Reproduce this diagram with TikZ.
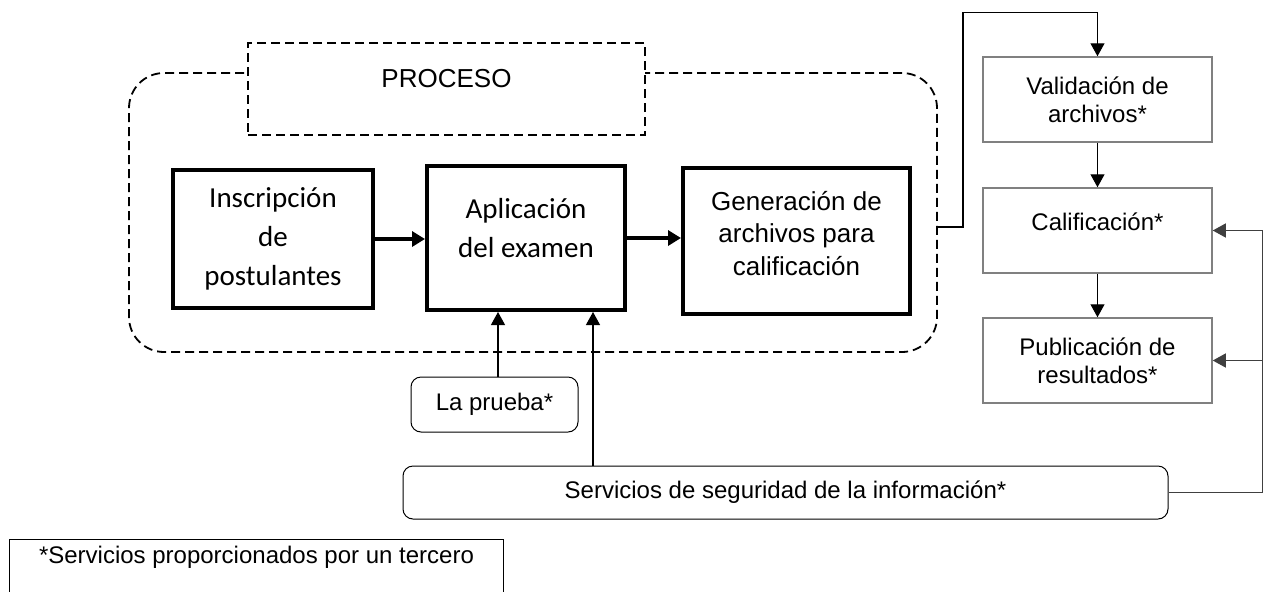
\documentclass[tikz,border=0pt]{standalone}
\usepackage{fontspec}
\setmainfont{Liberation Sans}
\newfontfamily\calibri{Carlito}
\usetikzlibrary{arrows.meta}
\definecolor{boxgris}{RGB}{128,128,128}
\definecolor{lineagris}{RGB}{64,64,64}

\begin{document}
\begin{tikzpicture}[x=0.5pt,y=-0.5pt,
  area/.style={draw,dash pattern=on 4.5pt off 2.5pt,line width=0.9pt,rounded corners=17.5pt},
  titulo/.style={draw,fill=white,dash pattern=on 4.5pt off 2.5pt,line width=0.9pt},
  etapa/.style={draw,line width=2pt,align=center,font=\calibri\fontsize{14.5}{19.5}\selectfont},
  servicio/.style={draw=boxgris,line width=0.75pt,align=center,minimum width=114.5pt,minimum height=42.5pt,font=\fontsize{12}{14}\selectfont},
  apoyo/.style={draw,line width=0.5pt,rounded corners=5pt,align=center,font=\fontsize{12}{14}\selectfont},
  flecha/.style={line width=0.6pt,-{Triangle[length=6.5pt,width=7pt]}},
  flechagruesa/.style={line width=2pt,-{Triangle[length=6.5pt,width=7.5pt]}}]
\useasboundingbox (0,0) rectangle (1266,591);
\clip (0,0) rectangle (1266,591);

\node[area,minimum width=404pt,minimum height=139.5pt] (proceso) at (533,212.5) {};
\node[titulo,minimum width=198.5pt,minimum height=46pt,
  label={[yshift=5pt,font=\fontsize{13}{15}\selectfont]center:PROCESO}] (titulo) at (446.5,89) {};

\node[etapa,minimum width=100pt,minimum height=69pt] (insc) at (273,239) {Inscripción\\de\\postulantes};
\node[etapa,minimum width=99pt,minimum height=72pt,
  label={[yshift=5pt,align=center,font=\calibri\fontsize{14.5}{19.5}\selectfont]center:Aplicación\\del examen}] (apli) at (526,238) {};
\node[etapa,minimum width=113.5pt,minimum height=73pt,
  label={[yshift=3.75pt,align=center,font=\fontsize{13}{16.25}\selectfont]center:Generación de\\archivos para\\calificación}] (gene) at (796.5,241) {};

\node[servicio] (vali) at (1097.5,99.5) {Validación de\\archivos*};
\node[servicio,label={[yshift=4.5pt,font=\fontsize{12}{14}\selectfont]center:Calificación*}] (cali) at (1097.5,230.5) {};
\node[servicio] (publ) at (1097.5,360.5) {Publicación de\\resultados*};

\node[apoyo,minimum width=83.5pt,minimum height=27.5pt] (prueba) at (494.5,404.5) {La prueba*};
\node[apoyo,minimum width=382.5pt,minimum height=26.5pt] (serv) at (785.5,492.5) {Servicios de seguridad de la información*};

\node[draw,line width=0.5pt,anchor=north west,minimum width=247pt,inner ysep=0pt,
  text height=12pt,text depth=30pt,font=\fontsize{12}{14}\selectfont] (nota) at (9,539) {*Servicios proporcionados por un tercero};

\draw[flechagruesa] (insc.east) -- (insc.east -| apli.west);
\draw[flechagruesa] (apli.east) -- (apli.east -| gene.west);

\draw[flecha] ([xshift=1.75pt]prueba.north) -- ([xshift=1.75pt]prueba.north |- apli.south);
\draw[flecha] ([xshift=33.5pt]apli.south |- serv.north) -- ([xshift=33.5pt]apli.south);

\draw[flecha] ([yshift=-7.25pt]proceso.east) -- ++(12.5pt,0) |- ([yshift=22pt]vali.north) -- (vali.north);
\draw[flecha] (vali.south) -- (cali.north);
\draw[flecha] (cali.south) -- (publ.north);

\draw[flecha,lineagris] (serv.east) -| ([xshift=25pt]cali.east) -- (cali.east);
\draw[flecha,lineagris] ([xshift=25pt]publ.east) -- (publ.east);

\end{tikzpicture}
\end{document}
